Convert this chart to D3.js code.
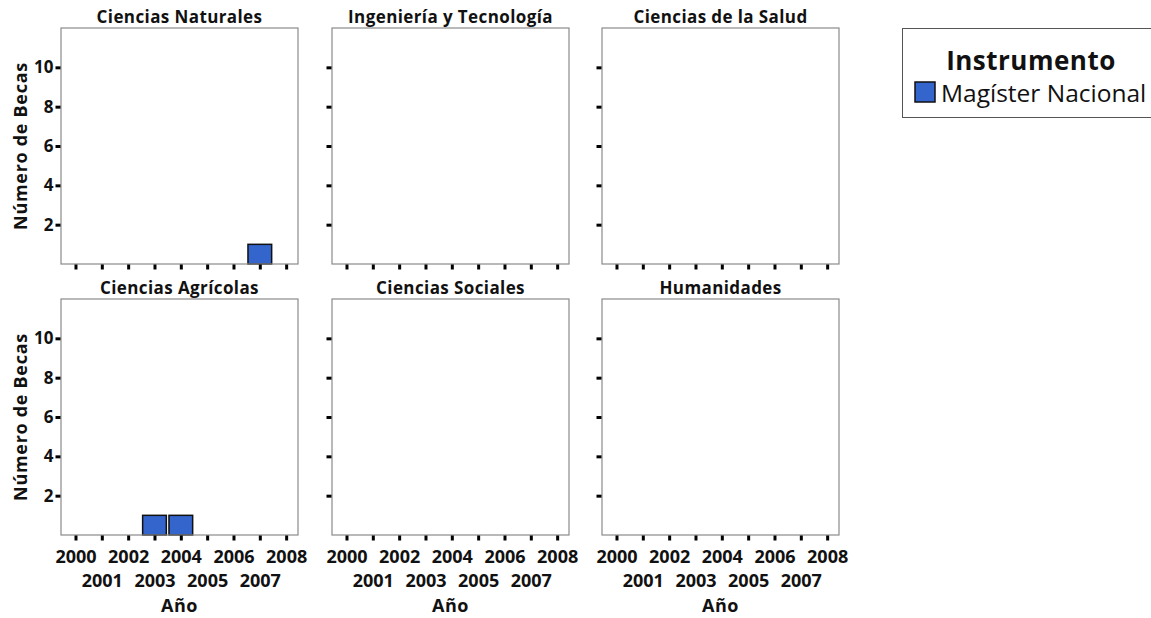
<!DOCTYPE html>
<html>
<head>
<meta charset="utf-8">
<script src="https://cdn.jsdelivr.net/npm/d3@7"></script>
<style>
  body { margin: 0; background: #fff; }
  text { font-family: "Open Sans", sans-serif; fill: #111; }
</style>
</head>
<body>
<div id="chart-area"></div>
<script>
// Data
var years = [2000, 2001, 2002, 2003, 2004, 2005, 2006, 2007, 2008]
var yTicks = [2, 4, 6, 8, 10]
var areas = ["Ciencias Naturales", "Ingeniería y Tecnología", "Ciencias de la Salud",
             "Ciencias Agrícolas", "Ciencias Sociales", "Humanidades"]
var instrument = "Magíster Nacional"
// becas per area and year (only non-zero entries)
var becas = [
    {area: "Ciencias Naturales", year: 2007, value: 1},
    {area: "Ciencias Agrícolas", year: 2003, value: 1},
    {area: "Ciencias Agrícolas", year: 2004, value: 1}
]

var W = 1151, H = 618
var panelW = 237, panelH = 236
var colX = [61, 332, 602]
var rowY = [28, 299]
var barColor = "#3465CC"

var svg = d3.select("#chart-area")
    .append("svg")
        .attr("width", W)
        .attr("height", H)

// Scales
var x = d3.scaleLinear()
    .domain([1999.45, 2008.45])
    .range([0, panelW])
var y = d3.scaleLinear()
    .domain([0, 12])
    .range([panelH, 0])
var barW = (x(1) - x(0)) * 0.9

areas.forEach(function(area, i){
    var col = i % 3, row = Math.floor(i / 3)
    var g = svg.append("g")
        .attr("transform", "translate(" + colX[col] + ", " + rowY[row] + ")")

    // Panel title
    g.append("text")
        .attr("x", panelW / 2)
        .attr("y", -5)
        .attr("text-anchor", "middle")
        .attr("font-size", 17)
        .attr("font-weight", "bold")
        .attr("letter-spacing", 0.4)
        .text(area)

    // Bars
    g.selectAll("rect.bar")
        .data(becas.filter(d => d.area == area))
        .enter()
        .append("rect")
        .attr("class", "bar")
        .attr("x", d => x(d.year) - barW / 2)
        .attr("y", d => y(d.value))
        .attr("width", barW)
        .attr("height", d => y(0) - y(d.value))
        .attr("fill", barColor)
        .attr("stroke", "#111")
        .attr("stroke-width", 1.5)

    // Frame
    g.append("rect")
        .attr("x", 0)
        .attr("y", 0)
        .attr("width", panelW)
        .attr("height", panelH)
        .attr("fill", "none")
        .attr("stroke", "#8a8a8a")
        .attr("stroke-width", 1.2)

    // Y axis
    var yAxisCall = d3.axisLeft(y)
        .tickValues(yTicks)
        .tickSize(5)
        .tickPadding(2)
        .tickFormat(col == 0 ? d3.format("d") : "")
    var yAx = g.append("g")
        .attr("class", "y-axis")
        .attr("transform", "translate(-0.5, 0)")
        .call(yAxisCall)
    yAx.select(".domain").remove()
    yAx.selectAll("line").attr("stroke", "#000").attr("stroke-width", 3)
    yAx.selectAll("text")
        .attr("font-size", 17)
        .attr("font-weight", "bold")
        .attr("font-family", "Open Sans")
        .attr("fill", "#111")

    // X axis
    var xAxisCall = d3.axisBottom(x)
        .tickValues(years)
        .tickSize(5)
        .tickFormat(row == 1 ? d3.format("d") : "")
    var xAx = g.append("g")
        .attr("class", "x-axis")
        .attr("transform", "translate(0, " + (panelH + 0.5) + ")")
        .call(xAxisCall)
    xAx.select(".domain").remove()
    xAx.selectAll("line").attr("stroke", "#000").attr("stroke-width", 3)
    xAx.selectAll("text")
        .attr("font-size", 18)
        .attr("font-weight", "bold")
        .attr("font-family", "Open Sans")
        .attr("fill", "#111")
        .attr("dy", null)
        .attr("y", d => (d % 2 == 0) ? 27 : 51)

    if (row == 1) {
        g.append("text")
            .attr("x", panelW / 2)
            .attr("y", panelH + 77)
            .attr("text-anchor", "middle")
            .attr("font-size", 18)
            .attr("font-weight", "bold")
            .attr("letter-spacing", 0.5)
            .text("Año")
    }
    if (col == 0) {
        g.append("text")
            .attr("transform", "rotate(-90)")
            .attr("x", -panelH / 2)
            .attr("y", -34)
            .attr("text-anchor", "middle")
            .attr("font-size", 18)
            .attr("font-weight", "bold")
            .attr("letter-spacing", 0.7)
            .text("Número de Becas")
    }
})

// Legend
var legend = svg.append("g")
    .attr("transform", "translate(902, 28)")
legend.append("rect")
    .attr("x", 0.5)
    .attr("y", 0.5)
    .attr("width", 260)
    .attr("height", 89)
    .attr("fill", "#fff")
    .attr("stroke", "#555")
    .attr("stroke-width", 1)
legend.append("text")
    .attr("x", 129)
    .attr("y", 42)
    .attr("text-anchor", "middle")
    .attr("font-size", 26)
    .attr("font-weight", "bold")
    .attr("letter-spacing", 0.5)
    .text("Instrumento")
legend.append("rect")
    .attr("x", 13)
    .attr("y", 54)
    .attr("width", 20)
    .attr("height", 20)
    .attr("fill", barColor)
    .attr("stroke", "#111")
    .attr("stroke-width", 1.5)
legend.append("text")
    .attr("x", 39)
    .attr("y", 74)
    .attr("font-size", 24.5)
    .text(instrument)
</script>
</body>
</html>
